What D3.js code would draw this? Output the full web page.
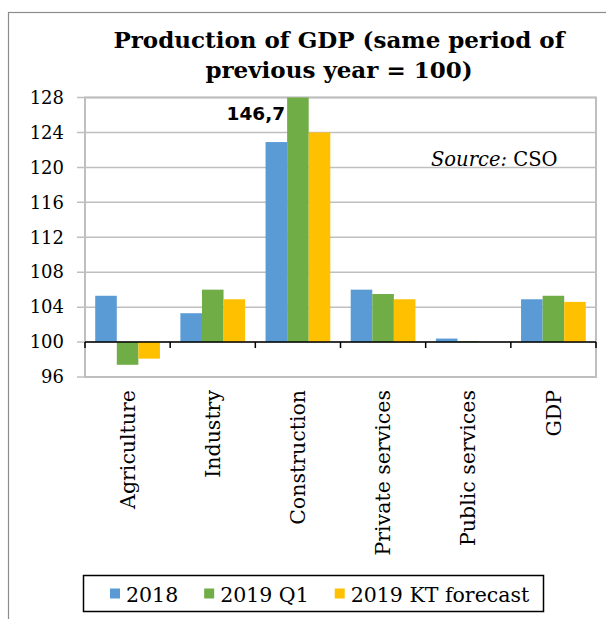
<!DOCTYPE html>
<html>
<head>
<meta charset="utf-8">
<script src="https://cdn.jsdelivr.net/npm/d3@7"></script>
<style>
  html, body { margin: 0; padding: 0; background: #fff; }
  svg { display: block; }
</style>
</head>
<body>
<svg id="chart" width="606" height="619"></svg>
<script>
// Production of GDP, index: same period of previous year = 100
const categories = ["Agriculture", "Industry", "Construction", "Private services", "Public services", "GDP"];
const seriesNames = ["2018", "2019 Q1", "2019 KT forecast"];
const values2018 = [105.3, 103.3, 122.9, 106.0, 100.4, 104.9];
const values2019Q1 = [97.4, 106.0, 146.7, 105.5, 100.1, 105.3];
const values2019Forecast = [98.1, 104.9, 124.0, 104.9, 100.0, 104.6];
const yTicks = [96, 100, 104, 108, 112, 116, 120, 124, 128];
const seriesColors = ["#5b9bd5", "#70ad47", "#ffc000"];

const seriesValues = [values2018, values2019Q1, values2019Forecast];
const serif = "'DejaVu Serif', serif";

const svg = d3.select("#chart");

// outer chart frame
svg.append("rect")
  .attr("x", 8.5).attr("y", 12.5)
  .attr("width", 640).attr("height", 640)
  .attr("fill", "#fff").attr("stroke", "#8c8c8c").attr("stroke-width", 1.2);

// plot area
const plot = { left: 85, right: 596, top: 97.5, bottom: 377 };

const y = d3.scaleLinear().domain([96, 128]).range([plot.bottom, plot.top]);
const x0 = d3.scaleBand().domain(categories).range([plot.left, plot.right]).padding(0);
const x1 = d3.scaleBand().domain(seriesNames)
  .range([x0.bandwidth() * 0.12, x0.bandwidth() * 0.88]).padding(0);

// gridlines
svg.append("g")
  .selectAll("line")
  .data(yTicks)
  .join("line")
  .attr("x1", plot.left - 8).attr("x2", plot.right)
  .attr("y1", d => y(d)).attr("y2", d => y(d))
  .attr("stroke", "#bfbfbf").attr("stroke-width", 1.5);

// plot border
svg.append("rect")
  .attr("x", plot.left).attr("y", y(128))
  .attr("width", plot.right - plot.left).attr("height", y(96) - y(128))
  .attr("fill", "none").attr("stroke", "#bfbfbf").attr("stroke-width", 2);

// y-axis tick labels
const yAxis = d3.axisLeft(y).tickValues(yTicks).tickSize(0).tickPadding(21);
const gy = svg.append("g").attr("transform", `translate(${plot.left},0)`).call(yAxis);
gy.select(".domain").remove();
gy.selectAll("text")
  .attr("font-family", serif).attr("font-size", 18).attr("fill", "#000");

// bars
svg.append("clipPath").attr("id", "plotClip")
  .append("rect")
  .attr("x", plot.left).attr("y", y(128))
  .attr("width", plot.right - plot.left).attr("height", y(96) - y(128));

const barData = [];
categories.forEach((c, i) => {
  seriesNames.forEach((s, j) => {
    barData.push({ category: c, series: s, value: seriesValues[j][i], color: seriesColors[j] });
  });
});

svg.append("g").attr("clip-path", "url(#plotClip)")
  .selectAll("rect")
  .data(barData)
  .join("rect")
  .attr("x", d => x0(d.category) + x1(d.series))
  .attr("width", x1.bandwidth())
  .attr("y", d => y(Math.max(100, d.value)))
  .attr("height", d => Math.abs(y(d.value) - y(100)))
  .attr("fill", d => d.color);

// category axis crossing at 100
const xAxisY = y(100);
svg.append("line")
  .attr("x1", plot.left).attr("x2", plot.right)
  .attr("y1", xAxisY).attr("y2", xAxisY)
  .attr("stroke", "#000").attr("stroke-width", 1.5);
const boundaries = categories.map(c => x0(c)).concat([plot.right]);
svg.append("g").selectAll("line")
  .data(boundaries)
  .join("line")
  .attr("x1", d => d).attr("x2", d => d)
  .attr("y1", xAxisY).attr("y2", xAxisY + 6)
  .attr("stroke", "#000").attr("stroke-width", 1.5);

// rotated category labels
svg.append("g").selectAll("text")
  .data(categories)
  .join("text")
  .attr("transform", d => `translate(${x0(d) + x0.bandwidth() / 2},390) rotate(-90)`)
  .attr("text-anchor", "end")
  .attr("dy", "0.35em")
  .attr("font-family", serif).attr("font-size", 20.5).attr("fill", "#000")
  .text(d => d);

// value label for the clipped construction bar
const ci = categories.indexOf("Construction");
svg.append("text")
  .attr("x", x0("Construction") + x1("2019 Q1") - 2)
  .attr("y", y(128) + 22)
  .attr("text-anchor", "end")
  .attr("font-family", "'DejaVu Sans', sans-serif").attr("font-weight", "bold")
  .attr("font-size", 18.5).attr("fill", "#000")
  .text(d3.format(".1f")(values2019Q1[ci]).replace(".", ","));

// source note
const src = svg.append("text")
  .attr("x", 431).attr("y", 166)
  .attr("font-family", serif).attr("font-size", 19.5).attr("fill", "#000");
src.append("tspan").attr("font-style", "italic").text("Source:");
src.append("tspan").text(" CSO");

// title
const title = svg.append("text")
  .attr("text-anchor", "middle")
  .attr("font-family", serif).attr("font-weight", "bold")
  .attr("font-size", 23).attr("fill", "#000");
title.append("tspan").attr("x", 339).attr("y", 48).text("Production of GDP (same period of");
title.append("tspan").attr("x", 339).attr("y", 78).text("previous year = 100)");

// legend
const legend = svg.append("g");
legend.append("rect")
  .attr("x", 83.5).attr("y", 575.5)
  .attr("width", 460).attr("height", 36)
  .attr("fill", "#fff").attr("stroke", "#000").attr("stroke-width", 1.5);
let lx = 110;
seriesNames.forEach((s, j) => {
  legend.append("rect")
    .attr("x", lx).attr("y", 588.5)
    .attr("width", 10).attr("height", 10)
    .attr("fill", seriesColors[j]);
  const t = legend.append("text")
    .attr("x", lx + 16).attr("y", 602)
    .attr("font-family", serif).attr("font-size", 20.5).attr("fill", "#000")
    .text(s);
  lx += 16 + t.node().getComputedTextLength() + 26;
});
</script>
</body>
</html>
